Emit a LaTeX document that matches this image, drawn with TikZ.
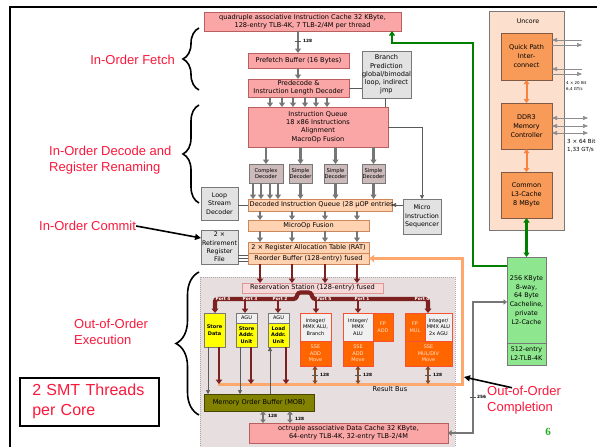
\documentclass[tikz,border=0pt]{standalone}
\usepackage{fontspec}
\setmainfont{DejaVu Sans}
\newfontfamily\labfont{Liberation Sans}
\newfontfamily\numfont{Liberation Serif}
\usetikzlibrary{arrows.meta,decorations.pathreplacing}

\definecolor{cPink}{RGB}{250,166,166}
\definecolor{cPinkD}{RGB}{185,95,95}
\definecolor{cPeach}{RGB}{255,211,178}
\definecolor{cPeachD}{RGB}{205,135,90}
\definecolor{cGray}{RGB}{226,226,226}
\definecolor{cGrayD}{RGB}{120,120,120}
\definecolor{cDec}{RGB}{205,186,186}
\definecolor{cExec}{RGB}{231,223,223}
\definecolor{cExecD}{RGB}{175,165,165}
\definecolor{cRS}{RGB}{246,216,216}
\definecolor{cRSD}{RGB}{225,150,150}
\definecolor{cMar}{RGB}{125,32,32}
\definecolor{cOr}{RGB}{255,102,0}
\definecolor{cOrD}{RGB}{250,80,50}
\definecolor{cOrT}{RGB}{255,228,205}
\definecolor{cWU}{RGB}{240,240,240}
\definecolor{cYel}{RGB}{255,255,0}
\definecolor{cUnc}{RGB}{253,223,205}
\definecolor{cUncB}{RGB}{248,155,88}
\definecolor{cUncD}{RGB}{130,90,70}
\definecolor{cL2}{RGB}{142,230,142}
\definecolor{cGrn}{RGB}{0,128,0}
\definecolor{cLab}{RGB}{250,25,60}
\definecolor{cMob}{RGB}{130,130,0}
\definecolor{cMobD}{RGB}{70,70,0}
\definecolor{cBus}{RGB}{255,168,110}
\definecolor{cArr}{RGB}{118,118,118}
\definecolor{cArrD}{RGB}{90,90,90}
\definecolor{cBrn}{RGB}{135,75,40}
\definecolor{cUncA}{RGB}{250,130,60}
\definecolor{cSix}{RGB}{40,170,40}

% block from (x1,y1) to (x2,y2): style, name, x1, y1, x2, y2, text
\newcommand\blk[7]{\node[#1, minimum width={(#5-#3)*1pt}, minimum height={(#6-#4)*1pt}] (#2) at (#3,#4) {#7};}

\tikzset{
 blk/.style={draw, line width=0.7pt, inner sep=0pt, outer sep=0pt, anchor=north west, align=center, font=\fontsize{6.6}{8.3}\selectfont},
 pinkb/.style={blk, fill=cPink, draw=cPinkD},
 peachb/.style={blk, fill=cPeach, draw=cPeachD},
 grayb/.style={blk, fill=cGray, draw=cGrayD},
 grays/.style={grayb, font=\fontsize{6.3}{8.3}\selectfont},
 decb/.style={blk, fill=cDec, draw=cGrayD, font=\fontsize{5.2}{6.4}\selectfont},
 rsb/.style={blk, fill=cRS, draw=cRSD},
 yelb/.style={blk, fill=cYel, draw=cGrayD, font=\fontsize{5}{6.6}\selectfont\bfseries},
 agub/.style={blk, fill=cWU, draw=cGrayD, font=\fontsize{5}{6.6}\selectfont},
 exw/.style={blk, fill=cWU, draw=cOrD, font=\fontsize{5}{6.6}\selectfont},
 exo/.style={blk, fill=cOr, draw=cOrD, text=cOrT, font=\fontsize{5}{6.6}\selectfont},
 uncbg/.style={blk, fill=cUnc, draw=cGrayD},
 uncb/.style={blk, fill=cUncB, draw=cUncD, font=\fontsize{6.5}{9}\selectfont},
 l2b/.style={blk, fill=cL2, draw=cGrayD, font=\fontsize{6.4}{8.8}\selectfont},
 mobb/.style={blk, fill=cMob, draw=cMobD},
 execbg/.style={blk, fill=cExec, draw=cExecD, dash pattern=on 1pt off 1pt, line width=0.5pt},
 garr/.style={draw=cArr, line width=2.2pt, -{Triangle[width=6pt,length=4.5pt]}},
 gdbl/.style={draw=cArr, line width=2pt, {Triangle[width=5.5pt,length=3.5pt]}-{Triangle[width=5.5pt,length=3.5pt]}},
 thinl/.style={draw=cArrD, line width=0.6pt},
 thina/.style={thinl, -{Triangle[width=4pt,length=4pt]}},
 extl/.style={draw=black!45, line width=0.6pt},
 mara/.style={draw=cMar, line width=2.6pt, -{Triangle[width=6.5pt,length=4.5pt]}},
 brna/.style={draw=cBrn, line width=1.8pt, {Triangle[width=5pt,length=3.5pt]}-{Triangle[width=5pt,length=3.5pt]}},
 bw/.style={font=\fontsize{4.3}{5}\selectfont\bfseries, inner sep=0pt, anchor=west},
 portl/.style={font=\fontsize{4.3}{5}\selectfont\bfseries, text=white, inner sep=0pt},
 lab/.style={font=\labfont\fontsize{13}{16}\selectfont, text=cLab, inner sep=0pt, align=left},
 bracel/.style={draw=black, line width=1.6pt, decorate, decoration={brace, amplitude=#1}},
 blkarr/.style={draw=black, line width=1.6pt, -{Triangle[width=6pt,length=6pt]}},
}

\begin{document}
\begin{tikzpicture}[x=1pt,y=-1pt]
\useasboundingbox (0,0) rectangle (597,447);
\fill[white] (0,0) rectangle (597,447);

% page frame
\draw[line width=2pt] (10,448) -- (10,7) -- (598,7);

% ---------- labels on the left ----------
\node[lab, anchor=east] (lfetch) at (175,60) {In-Order Fetch};
\node[lab, anchor=west] (ldecode) at (49,160) {In-Order Decode and\\Register Renaming};
\node[lab, anchor=west] (lcommit) at (39,226) {In-Order Commit};
\node[lab, anchor=west] (lexec) at (74,332) {Out-of-Order\\Execution};
\node[lab, anchor=north west, draw=black, line width=1.5pt, minimum width=139pt, minimum height=48pt, text width=126pt, inner sep=0pt, font=\labfont\fontsize{16}{20}\selectfont] (smt) at (19,377) {\hspace*{6pt}2 SMT Threads\\\hspace*{6pt}per Core};
\node[lab, anchor=west] (lcompl) at (487,400) {Out-of-Order\\Completion};
\node[anchor=center, inner sep=0pt, text=cSix, font=\numfont\bfseries\fontsize{11}{12}\selectfont] (pagenum) at (548,432) {6};

\draw[bracel=16pt] (199,90) -- (199,28);
\draw[bracel=16pt] (199,203) -- (199,105);
\draw[bracel=23pt] (199,415) -- (199,272);

% ---------- backgrounds ----------
\blk{uncbg}{unc}{489}{11}{564}{230}{}
\node[inner sep=0pt, font=\fontsize{6.3}{7}\selectfont] (uncl) at (528,21) {Uncore};
\blk{execbg}{exa}{200}{277}{455}{449}{}

% ---------- front end ----------
\blk{pinkb}{ic}{204}{12}{401}{31}{quadruple associative Instruction Cache 32 KByte,\\128-entry TLB-4K, 7 TLB-2/4M per thread}
\blk{pinkb}{pf}{248}{53}{349}{68}{Prefetch Buffer (16 Bytes)}
\blk{pinkb}{pd}{248}{79}{349}{97}{Predecode \&\\Instruction Length Decoder}
\blk{grayb}{bp}{362}{51}{410}{98}{Branch\\Prediction\\global/bimodal\\loop, indirect\\jmp}
\blk{pinkb}{iq}{248}{107}{388}{147}{Instruction Queue\\18 x86 Instructions\\Alignment\\MacroOp Fusion}
\blk{decb}{cd}{249}{164}{283}{183}{Complex\\Decoder}
\blk{decb}{sd1}{289}{164}{312}{183}{Simple\\Decoder}
\blk{decb}{sd2}{324}{164}{347}{183}{Simple\\Decoder}
\blk{decb}{sd3}{362}{164}{385}{183}{Simple\\Decoder}
\blk{grays}{lsd}{201}{187}{238}{220}{Loop\\Stream\\Decoder}
\blk{peachb}{diq}{248}{199}{392}{211}{}
\begin{scope}
  \clip (diq.north west) rectangle (diq.south east);
  \node[anchor=west, inner sep=0pt, font=\fontsize{6.6}{8}\selectfont] (diqt) at ([xshift=1.5pt]diq.west) {Decoded Instruction Queue (28 µOP entries)};
\end{scope}
\blk{grays}{mis}{403}{199}{441}{234}{Micro\\Instruction\\Sequencer}
\blk{peachb}{mof}{248}{220}{369}{231}{MicroOp Fusion}
\blk{peachb}{rat}{248}{242}{369}{253}{2 × Register Allocation Table (RAT)}
\blk{peachb}{rob}{248}{253}{369}{264}{Reorder Buffer (128-entry) fused}
\blk{grays}{rrf}{201}{230}{238}{264}{2 ×\\Retirement\\Register\\File}

% result bus back to the reorder buffer
\coordinate (busL) at (218,384);
\coordinate (busR) at (462,384);
\draw[draw=cBus, line width=3pt, -{Triangle[width=7pt,length=5pt]}] (busL) -- (busR) |- (rob.east);

% fetch path
\draw[garr] (298,0 |- ic.south) -- (298,0 |- pf.north);
\draw[cArrD, line width=0.5pt] (295,41) -- (301,41);
\node[bw] (w128a) at (303,41) {128};
\draw[garr] (298,0 |- pf.south) -- (298,0 |- pd.north);
\draw[thinl] (pd.east |- 0,88) -- (bp.west |- 0,88);
\foreach \x in {270,282,293,305,316,327}
  \draw[garr] (\x,0 |- pd.south) -- (\x,0 |- iq.north);
\draw[thinl] (385,0 |- bp.south) -- (385,0 |- iq.north);
\draw[thina] (iq.east) -| (mis.north);

% decoders
\foreach \d in {cd,sd1,sd2,sd3}
  \draw[garr] (\d.north |- iq.south) -- (\d.north);
\foreach \x in {253,261,270,278}
  \draw[garr] (\x,0 |- cd.south) -- (\x,0 |- diq.north);
\foreach \d in {sd1,sd2,sd3}
  \draw[garr] (\d.south) -- (\d.south |- diq.north);
\draw[thinl] (lsd.east |- diq.west) -- (diq.west);
\draw[thina] (mis.west |- diq.east) -- (diq.east);
\foreach \x in {260,292,325,357} {
  \draw[garr] (\x,0 |- diq.south) -- (\x,0 |- mof.north);
  \draw[garr] (\x,0 |- mof.south) -- (\x,0 |- rat.north);
}
\foreach \yy in {255,258,261}
  \draw[thinl] (rrf.east |- 0,\yy) -- (rob.west |- 0,\yy);

% ---------- execution core ----------
\blk{rsb}{rs}{242}{283}{383}{293}{Reservation Station (128-entry) fused}
\foreach \x in {260,292,325,357}
  \draw[mara] (\x,0 |- rob.south) -- (\x,0 |- rs.north);

\blk{yelb}{sdu}{204}{313}{225}{347}{Store\\Data}
\blk{agub}{sau1}{236}{313}{257}{323}{AGU}
\blk{yelb}{sau2}{236}{323}{257}{347}{Store\\Addr.\\Unit}
\blk{agub}{lau1}{268}{313}{289}{323}{AGU}
\blk{yelb}{lau2}{268}{323}{289}{347}{Load\\Addr.\\Unit}
\blk{exw}{p5a}{300}{313}{331}{341}{Integer/\\MMX ALU,\\Branch}
\blk{exo}{p5b}{300}{341}{331}{366}{SSE\\ADD\\Move}
\blk{exw}{p1a}{343}{313}{373}{341}{Integer/\\MMX\\ALU}
\blk{exo}{p1f}{373}{313}{393}{341}{FP\\ADD}
\blk{exo}{p1b}{343}{341}{373}{366}{SSE\\ADD\\Move}
\blk{exo}{p0f}{405}{313}{425}{341}{FP\\MUL}
\blk{exw}{p0a}{425}{313}{452}{341}{Integer/\\MMX ALU\\2x AGU}
\blk{exo}{p0b}{405}{341}{452}{366}{SSE\\MUL/DIV\\Move}

% dispatch ports, rising into the reservation station
\coordinate (pbL) at (215,299);
\coordinate (pbR) at (428,299);
\draw[draw=cMar, line width=4.2pt, rounded corners=2.5pt, {Triangle[width=7pt,length=4.5pt]}-{Triangle[width=7pt,length=4.5pt]}]
  (215,0 |- sdu.north) -- (pbL) -- (296,299) -- (298,292.5) -- (311,292.5) -- (313,299) -- (pbR) -- (428,0 |- p0a.north);
\draw[mara] (245,0 |- pbL) -- (245,0 |- sau1.north);
\draw[mara] (278,0 |- pbL) -- (278,0 |- lau1.north);
\draw[mara] (316,0 |- pbL) -- (316,0 |- p5a.north);
\draw[mara] (358,0 |- pbL) -- (358,0 |- p1a.north);
\node[portl] (pt4) at (223,299) {Port 4};
\node[portl] (pt3) at (250,299) {Port 3};
\node[portl] (pt2) at (280,299) {Port 2};
\node[portl] (pt5) at (324,299) {Port 5};
\node[portl] (pt1) at (362,299) {Port 1};
\node[portl] (pt0) at (422,299) {Port 0};

% results onto the bus
\draw[mara] (219,0 |- sdu.south) -- (219,0 |- busL);
\draw[mara] (251,0 |- sau2.south) -- (251,0 |- busL);
\draw[mara] (286,0 |- lau2.south) -- (286,0 |- busL);
\foreach \x/\n in {315/r5,358/r1,428/r0} {
  \draw[brna] (\x,0 |- p5b.south) -- (\x,0 |- busL);
  \draw[cArrD, line width=0.4pt] (\x-3,375) -- (\x+3,375);
  \node[bw] (w\n) at (\x+5,375) {128};
}
\node[inner sep=0pt, font=\fontsize{6.6}{8}\selectfont] (rbus) at (390,389) {Result Bus};

% memory order buffer and data cache
\blk{mobb}{mob}{204}{394}{314}{411}{Memory Order Buffer (MOB)}
\blk{pinkb}{dc}{249}{423}{448}{443}{octruple associative Data Cache 32 KByte,\\64-entry TLB-4K, 32-entry TLB-2/4M}
\draw[thina] (208,0 |- sdu.south) -- (208,0 |- mob.north);
\draw[thina] (240,0 |- sau2.south) -- (240,0 |- mob.north);
\draw[thina] (270,0 |- mob.north) -- (270,0 |- lau2.south);
\draw[gdbl] (263,0 |- mob.south) -- (263,0 |- dc.north);
\draw[gdbl] (290,0 |- mob.south) -- (290,0 |- dc.north);
\node[bw] (w128m) at (268,416) {128};
\node[bw] (w128n) at (295,419) {128};

% ---------- uncore ----------
\blk{uncb}{qpi}{501}{33}{552}{80}{Quick Path\\Inter-\\connect}
\blk{uncb}{ddr}{501}{103}{552}{149}{DDR3\\Memory\\Controller}
\blk{uncb}{l3}{501}{172}{552}{218}{Common\\L3-Cache\\8 MByte}
\draw[draw=cUncA, line width=2pt, {Triangle[width=5.5pt,length=4pt]}-{Triangle[width=5.5pt,length=4pt]}] (qpi.south) -- (ddr.north);
\draw[draw=cUncA, line width=2pt, {Triangle[width=5.5pt,length=4pt]}-{Triangle[width=5.5pt,length=4pt]}] (ddr.south) -- (l3.north);

\coordinate (qx1) at (582,40);
\coordinate (qx2) at (582,45);
\coordinate (qx3) at (582,69);
\coordinate (qx4) at (582,74);
\draw[extl, -{Triangle[width=4pt,length=5pt]}] (qx1) -- (qpi.east |- qx1);
\draw[extl, -{Triangle[width=4pt,length=5pt]}] (qpi.east |- qx2) -- (qx2);
\draw[extl, -{Triangle[width=4pt,length=5pt]}] (qx3) -- (qpi.east |- qx3);
\draw[extl, -{Triangle[width=4pt,length=5pt]}] (qpi.east |- qx4) -- (qx4);
\node[inner sep=0pt, anchor=west, align=left, font=\fontsize{4}{5.5}\selectfont] (qpil) at (566,86) {4 × 20 Bit\\6,4 GT/s};
\foreach \yy/\n in {118/a,126/b,133/c} {
  \coordinate (dx\n) at (588,\yy);
  \draw[extl, {Triangle[width=4pt,length=5pt]}-{Triangle[width=4pt,length=5pt]}] (ddr.east |- dx\n) -- (dx\n);
}
\node[inner sep=0pt, anchor=west, align=left, font=\fontsize{5.6}{8}\selectfont] (ddrl) at (567,146) {3 × 64 Bit\\1,33 GT/s};

% ---------- L2 ----------
\blk{l2b}{l2}{507}{257}{546}{343}{256 KByte\\8-way,\\64 Byte\\Cacheline,\\private\\L2-Cache}
\blk{l2b}{tlb}{507}{343}{546}{365}{512-entry\\L2-TLB-4K}
\draw[draw=cGrn, line width=2.2pt, {Triangle[width=6pt,length=4.5pt]}-{Triangle[width=6pt,length=4.5pt]}] (l2.north) -- (l3.south);
\coordinate (gTop) at (473,43);
\draw[draw=cGrn, line width=2.2pt, -{Triangle[width=6pt,length=4.5pt]}] (l2.west |- 0,266) -| (gTop) -| (392,0 |- ic.south);
\coordinate (gBend) at (473,302);
\draw[gdbl, line width=2.4pt] (dc.east) -| (gBend) -- (l2.west |- gBend);
\draw[cArrD, line width=0.4pt] (470,397) -- (476,397);
\node[bw] (w256) at (477,397) {256};

% ---------- pointers from the labels ----------
\draw[blkarr] (lcommit.east) -- ([yshift=9pt]rrf.west);
\coordinate (cmplTip) at (464,377);
\draw[blkarr] ([xshift=25pt,yshift=-2pt]lcompl.north west) -- (cmplTip);
\end{tikzpicture}
\end{document}
